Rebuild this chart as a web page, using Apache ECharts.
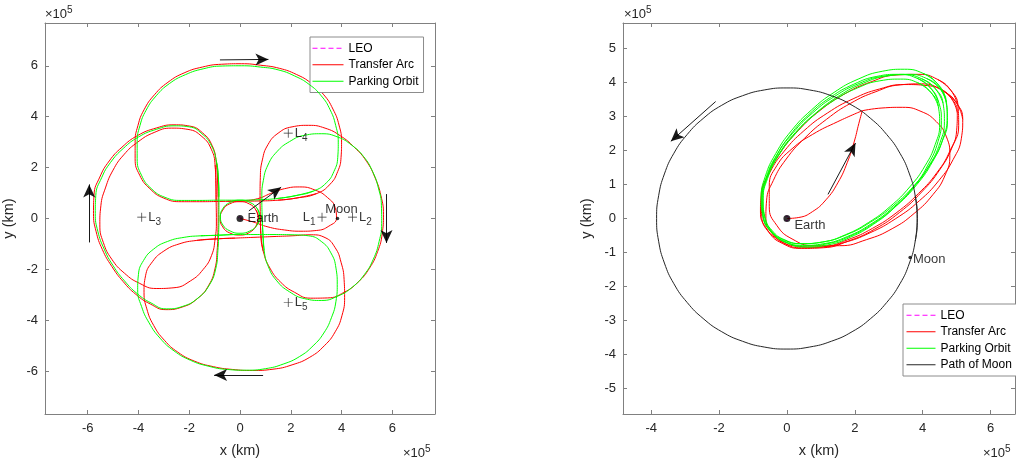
<!DOCTYPE html>
<html><head><meta charset="utf-8">
<script src="https://cdn.jsdelivr.net/npm/echarts@6/dist/echarts.min.js"></script>
<style>html,body{margin:0;padding:0;background:#fff}#c{width:1016px;height:463px}</style>
</head><body><div id="c"></div><script>
// ---------- data (units of 10^5 km) ----------
const leftTicks = [-6,-4,-2,0,2,4,6];
const rightXTicks = [-4,-2,0,2,4,6];
const rightYTicks = [-5,-4,-3,-2,-1,0,1,2,3,4,5];

// Left panel (Earth-Moon rotating frame)
const leoPath = [[0.07,0],[0,0.07],[-0.07,0],[0,-0.07],[0.07,0]];
const gTop = [[2.2,0.9],[1.5,0.79],[0.8,0.74],[0,0.72],[-0.8,0.72],[-1.6,0.71],[-2.3,0.71],[-2.95,0.83],[-3.5,1.18],[-3.88,1.7],[-4.05,2.35],[-4.05,3.0],[-3.94,3.65],[-3.7,4.25],[-3.3,4.82],[-2.78,5.3],[-2.15,5.65],[-1.45,5.88],[-0.7,5.99],[0.05,6.0],[0.8,5.95],[1.5,5.84],[2.15,5.6],[2.72,5.27],[3.2,4.82],[3.55,4.27],[3.77,3.65],[3.87,3.0],[3.85,2.4],[3.7,1.85],[3.4,1.4],[2.9,1.08],[2.2,0.9]];
const gLeft = [[-0.85,1.55],[-0.83,0.85],[-0.83,0.15],[-0.84,-0.55],[-0.87,-1.25],[-0.95,-1.95],[-1.2,-2.6],[-1.65,-3.12],[-2.25,-3.45],[-2.9,-3.55],[-3.5,-3.32],[-4.05,-2.95],[-4.55,-2.45],[-5.0,-1.85],[-5.35,-1.2],[-5.6,-0.5],[-5.7,0.2],[-5.68,0.9],[-5.45,1.6],[-5.1,2.2],[-4.6,2.75],[-4.0,3.2],[-3.3,3.5],[-2.6,3.64],[-2.0,3.6],[-1.5,3.33],[-1.12,2.85],[-0.92,2.2],[-0.85,1.55]];
const gBottom = [[-0.92,-0.66],[-0.2,-0.63],[0.55,-0.63],[1.3,-0.63],[2.05,-0.64],[2.7,-0.68],[3.2,-0.9],[3.58,-1.35],[3.78,-1.95],[3.83,-2.6],[3.78,-3.25],[3.6,-3.9],[3.3,-4.5],[2.88,-5.0],[2.35,-5.42],[1.7,-5.72],[1.0,-5.9],[0.25,-5.96],[-0.5,-5.93],[-1.25,-5.8],[-1.95,-5.57],[-2.6,-5.2],[-3.15,-4.7],[-3.58,-4.1],[-3.88,-3.45],[-4.03,-2.8],[-4.0,-2.2],[-3.8,-1.65],[-3.4,-1.2],[-2.85,-0.9],[-2.2,-0.74],[-1.55,-0.68],[-0.92,-0.66]];
const gRight = [[0.9,-0.55],[0.87,0.15],[0.86,0.85],[0.92,1.5],[1.1,2.1],[1.45,2.62],[1.95,3.02],[2.55,3.27],[3.2,3.33],[3.85,3.2],[4.4,2.88],[4.87,2.43],[5.22,1.85],[5.45,1.2],[5.57,0.5],[5.58,-0.2],[5.48,-0.9],[5.25,-1.6],[4.9,-2.2],[4.42,-2.7],[3.85,-3.05],[3.2,-3.22],[2.55,-3.15],[1.95,-2.88],[1.45,-2.45],[1.12,-1.9],[0.95,-1.25],[0.9,-0.55]];
const gLoop = [[0.77,0.07],[0.67,0.4],[0.39,0.63],[0,0.72],[-0.39,0.63],[-0.67,0.4],[-0.77,0.07],[-0.67,-0.26],[-0.39,-0.49],[0,-0.58],[0.39,-0.49],[0.67,-0.26],[0.77,0.07]];

const rTop = [[2.2,0.8],[1.5,0.72],[0.8,0.69],[0,0.68],[-0.8,0.67],[-1.6,0.66],[-2.3,0.66],[-3.0,0.8],[-3.55,1.17],[-3.95,1.7],[-4.13,2.35],[-4.13,3.0],[-4.02,3.65],[-3.78,4.27],[-3.37,4.86],[-2.84,5.35],[-2.2,5.72],[-1.48,5.95],[-0.72,6.06],[0.05,6.08],[0.82,6.02],[1.55,5.9],[2.22,5.66],[2.8,5.32],[3.3,4.86],[3.66,4.3],[3.9,3.67],[4.0,3.0],[3.98,2.4],[3.85,1.85],[3.55,1.35],[3.02,0.98],[2.2,0.8]];
const rRight = [[0.82,-0.6],[0.8,0.15],[0.79,0.9],[0.8,1.6],[0.88,2.3],[1.1,2.9],[1.5,3.35],[2.05,3.6],[2.7,3.66],[3.35,3.55],[3.95,3.25],[4.5,2.8],[4.98,2.25],[5.32,1.6],[5.55,0.9],[5.65,0.15],[5.6,-0.6],[5.42,-1.3],[5.1,-1.95],[4.65,-2.5],[4.1,-2.9],[3.45,-3.12],[2.78,-3.13],[2.15,-2.9],[1.6,-2.5],[1.18,-1.95],[0.92,-1.3],[0.82,-0.6]];
const rBottom = [[-0.92,-0.8],[-0.2,-0.77],[0.55,-0.74],[1.3,-0.71],[2.05,-0.68],[2.8,-0.64],[3.35,-0.75],[3.75,-1.15],[3.98,-1.72],[4.1,-2.4],[4.12,-3.1],[4.02,-3.8],[3.75,-4.45],[3.32,-5.0],[2.75,-5.45],[2.05,-5.75],[1.3,-5.92],[0.5,-5.97],[-0.3,-5.93],[-1.05,-5.82],[-1.8,-5.6],[-2.45,-5.25],[-2.98,-4.78],[-3.4,-4.2],[-3.67,-3.55],[-3.78,-2.9],[-3.72,-2.25],[-3.45,-1.7],[-3.0,-1.28],[-2.4,-1.0],[-1.7,-0.86],[-0.92,-0.8]];
const rLeftOuter = [[-0.88,1.55],[-0.86,0.85],[-0.86,0.15],[-0.87,-0.55],[-0.9,-1.25],[-0.98,-1.95],[-1.23,-2.62],[-1.68,-3.15],[-2.28,-3.48],[-2.92,-3.58],[-3.53,-3.36],[-4.1,-2.98],[-4.6,-2.48],[-5.05,-1.88],[-5.42,-1.22],[-5.67,-0.5],[-5.77,0.2],[-5.75,0.92],[-5.52,1.63],[-5.15,2.26],[-4.65,2.8],[-4.03,3.26],[-3.28,3.56],[-2.6,3.68],[-1.98,3.63],[-1.47,3.36],[-1.1,2.87],[-0.93,2.2],[-0.88,1.55]];
const rLeftInner = [[-0.95,1.5],[-0.94,0.7],[-0.93,-0.1],[-0.98,-0.8],[-1.12,-1.45],[-1.45,-2.0],[-1.95,-2.45],[-2.6,-2.72],[-3.3,-2.75],[-3.95,-2.55],[-4.55,-2.15],[-5.05,-1.6],[-5.38,-0.95],[-5.52,-0.25],[-5.48,0.5],[-5.3,1.2],[-5.0,1.9],[-4.58,2.5],[-4.03,3.0],[-3.38,3.38],[-2.7,3.55],[-2.05,3.5],[-1.5,3.22],[-1.13,2.72],[-0.98,2.1],[-0.95,1.5]];
const rTransfer = [[0,0],[0.5,-0.13],[1.1,-0.33],[1.75,-0.45],[2.4,-0.5],[3.02,-0.47],[3.5,-0.3],[3.8,0.02],[3.75,0.42],[3.45,0.82],[2.95,1.12],[2.35,1.24],[1.75,1.17],[1.2,0.98],[0.7,0.78],[0.1,0.7],[-0.5,0.68]];
const rLoop = [[0.72,0],[0.63,0.33],[0.37,0.57],[0,0.66],[-0.4,0.58],[-0.68,0.33],[-0.78,0],[-0.68,-0.33],[-0.4,-0.57],[0,-0.65],[0.37,-0.55],[0.63,-0.3],[0.72,0]];

const earthRot = [0,0];
const moonRot = [3.84,0];
const lagrangeNames = ['1','2','3','4','5'];
const lagrangeXY = [[3.23,0.05],[4.43,0.05],[-3.87,0.05],[1.9,3.35],[1.9,-3.3]];
const leftArrows = [
  [[-0.79,6.23],[1.12,6.25]],
  [[-5.94,-0.94],[-5.94,1.34]],
  [[5.77,0.96],[5.77,-0.96]],
  [[0.91,-6.15],[-1.02,-6.15]],
  [[0.35,0.3],[1.62,1.23]]
];

// Right panel (inertial frame)
const moonPath = [[3.84,0],[3.78,0.67],[3.61,1.31],[3.33,1.92],[2.94,2.47],[2.47,2.94],[1.92,3.33],[1.31,3.61],[0.67,3.78],[0,3.84],[-0.67,3.78],[-1.31,3.61],[-1.92,3.33],[-2.47,2.94],[-2.94,2.47],[-3.33,1.92],[-3.61,1.31],[-3.78,0.67],[-3.84,0],[-3.78,-0.67],[-3.61,-1.31],[-3.33,-1.92],[-2.94,-2.47],[-2.47,-2.94],[-1.92,-3.33],[-1.31,-3.61],[-0.67,-3.78],[0,-3.84],[0.67,-3.78],[1.31,-3.61],[1.92,-3.33],[2.47,-2.94],[2.94,-2.47],[3.33,-1.92],[3.61,-1.31],[3.78,-0.67],[3.84,0]];
const inGreen1 = [[4.42,3.98],[4.01,4.27],[3.46,4.39],[2.81,4.33],[2.10,4.10],[1.39,3.71],[0.72,3.19],[0.13,2.58],[-0.33,1.91],[-0.64,1.23],[-0.76,0.59],[-0.70,0.04],[-0.46,-0.40],[-0.05,-0.69],[0.50,-0.81],[1.15,-0.75],[1.86,-0.52],[2.57,-0.13],[3.24,0.39],[3.83,1.00],[4.29,1.67],[4.60,2.35],[4.72,2.99],[4.66,3.55],[4.42,3.98]];
const inGreen2 = [[4.37,3.82],[3.97,4.11],[3.44,4.23],[2.81,4.18],[2.12,3.97],[1.42,3.60],[0.75,3.10],[0.17,2.51],[-0.30,1.87],[-0.61,1.21],[-0.74,0.59],[-0.70,0.05],[-0.47,-0.38],[-0.07,-0.67],[0.46,-0.79],[1.09,-0.74],[1.78,-0.53],[2.48,-0.16],[3.15,0.34],[3.74,0.93],[4.20,1.57],[4.51,2.23],[4.64,2.85],[4.60,3.39],[4.37,3.82]];
const inGreen3 = [[4.49,3.84],[4.11,4.12],[3.58,4.24],[2.95,4.19],[2.25,3.98],[1.54,3.61],[0.86,3.11],[0.25,2.53],[-0.24,1.89],[-0.57,1.24],[-0.73,0.62],[-0.70,0.08],[-0.49,-0.34],[-0.11,-0.62],[0.42,-0.74],[1.05,-0.69],[1.75,-0.48],[2.46,-0.11],[3.15,0.39],[3.75,0.97],[4.24,1.62],[4.57,2.26],[4.73,2.88],[4.70,3.42],[4.49,3.84]];
const inGreen4 = [[4.22,3.85],[3.82,4.13],[3.28,4.24],[2.65,4.18],[1.97,3.95],[1.29,3.57],[0.65,3.06],[0.10,2.46],[-0.33,1.80],[-0.61,1.14],[-0.71,0.52],[-0.63,-0.02],[-0.38,-0.45],[0.02,-0.73],[0.56,-0.84],[1.19,-0.78],[1.87,-0.55],[2.55,-0.17],[3.19,0.34],[3.74,0.94],[4.17,1.60],[4.45,2.26],[4.55,2.88],[4.47,3.42],[4.22,3.85]];
const inGreen5 = [[4.24,3.71],[3.86,3.99],[3.35,4.10],[2.74,4.05],[2.08,3.84],[1.40,3.48],[0.75,3.00],[0.19,2.43],[-0.27,1.81],[-0.57,1.18],[-0.70,0.58],[-0.66,0.06],[-0.44,-0.35],[-0.06,-0.63],[0.45,-0.74],[1.06,-0.69],[1.72,-0.48],[2.40,-0.12],[3.05,0.36],[3.62,0.93],[4.07,1.55],[4.37,2.18],[4.50,2.78],[4.46,3.30],[4.24,3.71]];
const inRed0 = [[0,0],[0.35,0.03],[0.75,0.2],[1.15,0.55],[1.5,1.05],[1.78,1.65],[1.98,2.25],[2.12,2.8],[2.22,3.17]];
const inRed1 = [[2.22,3.17],[2.8,3.25],[3.4,3.27],[3.95,3.15],[4.4,2.85],[4.7,2.4],[4.8,1.85],[4.65,1.25],[4.3,0.7],[3.75,0.15],[3.1,-0.3],[2.35,-0.62],[1.55,-0.8],[0.8,-0.8],[0.15,-0.6],[-0.3,-0.2],[-0.52,0.35],[-0.52,0.95],[-0.3,1.55],[0.15,2.05],[0.75,2.47],[1.5,2.85],[2.22,3.17]];
const inRed2 = [[5.01,3.38],[4.65,3.72],[4.13,3.91],[3.47,3.94],[2.73,3.81],[1.95,3.52],[1.19,3.10],[0.50,2.58],[-0.08,1.98],[-0.50,1.36],[-0.74,0.75],[-0.78,0.19],[-0.61,-0.28],[-0.25,-0.62],[0.27,-0.81],[0.93,-0.84],[1.67,-0.71],[2.45,-0.42],[3.21,0.00],[3.90,0.52],[4.48,1.12],[4.90,1.74],[5.14,2.36],[5.18,2.91],[5.01,3.38]];
const inRed3 = [[4.83,3.77],[4.44,4.09],[3.89,4.24],[3.22,4.22],[2.48,4.02],[1.71,3.67],[0.98,3.18],[0.33,2.58],[-0.20,1.93],[-0.57,1.26],[-0.76,0.62],[-0.74,0.05],[-0.53,-0.41],[-0.14,-0.73],[0.42,-0.88],[1.08,-0.86],[1.82,-0.66],[2.59,-0.31],[3.32,0.18],[3.97,0.78],[4.50,1.43],[4.87,2.10],[5.06,2.74],[5.04,3.32],[4.83,3.77]];
const inRed4 = [[4.84,3.54],[4.48,3.83],[3.97,3.96],[3.33,3.93],[2.62,3.73],[1.88,3.39],[1.17,2.92],[0.52,2.36],[-0.02,1.75],[-0.40,1.12],[-0.60,0.52],[-0.62,-0.01],[-0.44,-0.44],[-0.08,-0.73],[0.43,-0.86],[1.07,-0.83],[1.78,-0.63],[2.52,-0.29],[3.24,0.18],[3.88,0.74],[4.42,1.35],[4.80,1.98],[5.00,2.58],[5.02,3.11],[4.84,3.54]];
const earthIn = [0,0];
const moonIn = [3.63,-1.15];
const rightArrows = [
  [[-2.1,3.44],[-3.42,2.27]],
  [[1.21,0.71],[2.02,2.22]]
];

// ---------- styling ----------
const FONT = "'Liberation Sans', Arial, Helvetica, sans-serif";
const AX = '#808080', TXT = '#262626';
const RED = '#ff0000', GREEN = '#00ff00', MAG = '#ff00ff', BLK = '#262626';

function xAx(grid, min, max, ticks, pos) {
  const main = pos === 'bottom';
  return {
    gridIndex: grid, type: 'value', min, max, position: pos,
    axisLine: {onZero: false, lineStyle: {color: AX, width: 1}},
    axisTick: {inside: true, length: 4, customValues: ticks, lineStyle: {color: AX}},
    axisLabel: {show: main, customValues: ticks, color: TXT, fontSize: 13, fontFamily: FONT, margin: 8},
    splitLine: {show: false},
    name: main ? 'x (km)' : '', nameLocation: 'middle', nameGap: 29,
    nameTextStyle: {color: TXT, fontSize: 14.5, fontFamily: FONT}
  };
}
function yAx(grid, min, max, ticks, pos) {
  const main = pos === 'left';
  return {
    gridIndex: grid, type: 'value', min, max, position: pos,
    axisLine: {onZero: false, lineStyle: {color: AX, width: 1}},
    axisTick: {inside: true, length: 4, customValues: ticks, lineStyle: {color: AX}},
    axisLabel: {show: main, customValues: ticks, color: TXT, fontSize: 13, fontFamily: FONT, margin: 7},
    splitLine: {show: false},
    name: main ? 'y (km)' : '', nameLocation: 'middle', nameGap: 29, nameRotate: 90,
    nameTextStyle: {color: TXT, fontSize: 14.5, fontFamily: FONT}
  };
}
// closed loops: add one wrap-around point on each end so smoothing has neighbours at the seam
function loop(a) { return [a[a.length - 2]].concat(a, [a[1]]); }
function path(name, data, color, ai, z, dashed) {
  return {
    type: 'line', name, data, xAxisIndex: ai, yAxisIndex: ai,
    symbol: 'none', smooth: 0.5, silent: true, animation: false, z: z,
    lineStyle: {color, width: 1, type: dashed ? [5, 3] : 'solid'},
    itemStyle: {color}, emphasis: {disabled: true}
  };
}
const plusPath = 'path://M4.6,0H5.4V4.6H10V5.4H5.4V10H4.6V5.4H0V4.6H4.6Z';
const richL = {
  l: {fontSize: 13, color: '#000', fontFamily: FONT},
  s: {fontSize: 10, color: '#000', fontFamily: FONT, padding: [10, 0, 0, 0]}
};
function arrowLines(list) {
  return {
    silent: true, symbol: ['none', 'arrow'], symbolSize: [9, 13],
    label: {show: false}, emphasis: {disabled: true},
    lineStyle: {color: '#000', width: 1, type: 'solid', opacity: 0.9},
    data: list.map(a => [{coord: a[0]}, {coord: a[1]}])
  };
}

const series = [
  // left panel
  path('LEO', leoPath, MAG, 0, 2, true),
  path('Transfer Arc', loop(rTop), RED, 0, 3),
  path('Transfer Arc', loop(rRight), RED, 0, 3),
  path('Transfer Arc', loop(rBottom), RED, 0, 3),
  path('Transfer Arc', loop(rLeftOuter), RED, 0, 3),
  path('Transfer Arc', loop(rLeftInner), RED, 0, 3),
  path('Transfer Arc', rTransfer, RED, 0, 3),
  path('Transfer Arc', loop(rLoop), RED, 0, 3),
  path('Parking Orbit', loop(gTop), GREEN, 0, 4),
  path('Parking Orbit', loop(gLeft), GREEN, 0, 4),
  path('Parking Orbit', loop(gBottom), GREEN, 0, 4),
  path('Parking Orbit', loop(gRight), GREEN, 0, 4),
  path('Parking Orbit', loop(gLoop), GREEN, 0, 4),
  {
    type: 'scatter', name: 'earthL', xAxisIndex: 0, yAxisIndex: 0, silent: true, z: 6,
    data: [{value: earthRot, name: 'Earth', symbolSize: 7,
            label: {show: true, position: 'right', distance: 4, formatter: '{b}', color: '#000', fontSize: 13, fontFamily: FONT}},
           {value: moonRot, name: 'Moon', symbolSize: 3.5,
            label: {show: true, position: 'top', distance: 1, offset: [4, 0], formatter: '{b}', color: '#000', fontSize: 13, fontFamily: FONT}}],
    itemStyle: {color: '#000'},
    markLine: arrowLines(leftArrows)
  },
  {
    type: 'scatter', name: 'lagr', xAxisIndex: 0, yAxisIndex: 0, silent: true, z: 6,
    symbol: plusPath, symbolSize: 9, itemStyle: {color: '#000'},
    data: lagrangeNames.map((n, i) => ({value: lagrangeXY[i], name: n,
      label: {position: n === '1' ? 'left' : 'right', distance: 2}})),
    label: {show: true, formatter: p => '{l|L}{s|' + p.name + '}', rich: richL}
  },
  // right panel
  path('LEO', leoPath, MAG, 2, 2, true),
  path('Transfer Arc', inRed0, RED, 2, 3),
  path('Transfer Arc', inRed1, RED, 2, 3),
  path('Transfer Arc', loop(inRed2), RED, 2, 3),
  path('Transfer Arc', loop(inRed3), RED, 2, 3),
  path('Transfer Arc', loop(inRed4), RED, 2, 3),
  path('Parking Orbit', loop(inGreen1), GREEN, 2, 4),
  path('Parking Orbit', loop(inGreen2), GREEN, 2, 4),
  path('Parking Orbit', loop(inGreen3), GREEN, 2, 4),
  path('Parking Orbit', loop(inGreen4), GREEN, 2, 4),
  path('Parking Orbit', loop(inGreen5), GREEN, 2, 4),
  path('Path of Moon', loop(moonPath), BLK, 2, 5),
  {
    type: 'scatter', name: 'earthR', xAxisIndex: 2, yAxisIndex: 2, silent: true, z: 6,
    data: [{value: earthIn, name: 'Earth', symbolSize: 7,
            label: {show: true, position: 'right', distance: 4, offset: [0, 7], formatter: '{b}', color: '#000', fontSize: 13, fontFamily: FONT}},
           {value: moonIn, name: 'Moon', symbolSize: 3.5,
            label: {show: true, position: 'right', distance: 1, offset: [0, 2], formatter: '{b}', color: '#000', fontSize: 13, fontFamily: FONT}}],
    itemStyle: {color: '#000'},
    markLine: arrowLines(rightArrows)
  }
];

const legendBase = {
  orient: 'vertical', itemHeight: 2, itemGap: 4, selectedMode: false,
  itemStyle: {opacity: 0},
  lineStyle: {width: 1},
  borderColor: '#8c8c8c', borderWidth: 1, borderRadius: 0, backgroundColor: '#fff',
  textStyle: {fontSize: 12, color: '#000', fontFamily: FONT, lineHeight: 12.5}
};

const sup = (t) => ({
  type: 'text', silent: true,
  style: {text: '{a|×10}{b|5}', rich: {
    a: {fontSize: 13, fill: TXT, fontFamily: FONT},
    b: {fontSize: 10, fill: TXT, fontFamily: FONT, padding: [0, 0, 9, 0]}}},
  ...t
});

const option = {
  animation: false,
  backgroundColor: '#fff',
  grid: [
    {left: 45, top: 23, width: 390, height: 391},
    {left: 623, top: 23, width: 392, height: 391}
  ],
  xAxis: [
    xAx(0, -7.68, 7.68, leftTicks, 'bottom'),
    xAx(0, -7.68, 7.68, leftTicks, 'top'),
    xAx(1, -4.83, 6.72, rightXTicks, 'bottom'),
    xAx(1, -4.83, 6.72, rightXTicks, 'top')
  ],
  yAxis: [
    yAx(0, -7.68, 7.68, leftTicks, 'left'),
    yAx(0, -7.68, 7.68, leftTicks, 'right'),
    yAx(1, -5.75, 5.75, rightYTicks, 'left'),
    yAx(1, -5.75, 5.75, rightYTicks, 'right')
  ],
  legend: [
    Object.assign({}, legendBase, {data: ['LEO', 'Transfer Arc', 'Parking Orbit'], left: 310, top: 37, itemWidth: 31, padding: [5, 5, 5, 2]}),
    Object.assign({}, legendBase, {data: ['LEO', 'Transfer Arc', 'Parking Orbit', 'Path of Moon'], left: 903, top: 304, itemWidth: 29, padding: [5, 5, 5, 3]})
  ],
  graphic: [
    sup({left: 45, top: 5}),
    sup({left: 403, top: 444}),
    sup({left: 624, top: 5}),
    sup({left: 983, top: 444})
  ],
  series
};

const chart = echarts.init(document.getElementById('c'), null, {renderer: 'canvas'});
chart.setOption(option);
</script></body></html>
